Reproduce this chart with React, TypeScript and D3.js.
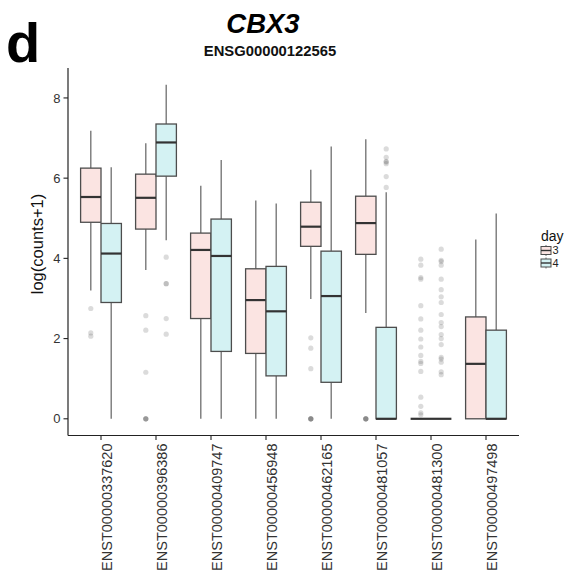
import * as d3 from "d3";

// ---------------------------------------------------------------------------
// Data
// ---------------------------------------------------------------------------

const TRANSCRIPTS = [
  "ENST00000337620",
  "ENST00000396386",
  "ENST00000409747",
  "ENST00000456948",
  "ENST00000462165",
  "ENST00000481057",
  "ENST00000481300",
  "ENST00000497498",
];

const DAYS = ["3", "4"];

// [lower whisker, Q1, median, Q3, upper whisker]
const DAY3_STATS = [
  [3.2, 4.9, 5.53, 6.25, 7.18],
  [3.71, 4.73, 5.51, 6.1, 6.87],
  [0, 2.5, 4.21, 4.63, 5.81],
  [0, 1.63, 2.96, 3.74, 5.44],
  [2.99, 4.3, 4.79, 5.4, 6.21],
  [2.64, 4.1, 4.88, 5.55, 6.97],
  [0, 0, 0, 0, 0],
  [0, 0, 1.37, 2.54, 4.47],
];

const DAY4_STATS = [
  [0, 2.9, 4.12, 4.87, 6.27],
  [4.45, 6.05, 6.89, 7.35, 8.33],
  [0, 1.68, 4.06, 4.98, 6.45],
  [0, 1.07, 2.68, 3.8, 5.37],
  [0, 0.91, 3.06, 4.18, 6.79],
  [0, 0, 0, 2.28, 5.65],
  [0, 0, 0, 0, 0],
  [0, 0, 0, 2.21, 5.12],
];

const DAY3_OUTLIERS = [
  [2.75, 2.14, 2.06],
  [2.57, 2.21, 1.16, 0, 0, 0, 0],
  [],
  [],
  [2.02, 1.76, 1.25, 0, 0, 0, 0, 0],
  [0, 0, 0, 0, 0],
  [3.98, 3.83, 3.52, 3.48, 2.82, 2.49, 2.21, 1.99, 1.79, 1.58, 1.43, 1.38, 1.18, 0.54, 0.31, 0.15, 0.1],
  [],
];

const DAY4_OUTLIERS = [
  [],
  [4.03, 3.37, 3.37, 2.5, 2.11],
  [],
  [],
  [],
  [6.73, 6.52, 6.42, 6.4, 6.36, 6.04, 5.77],
  [4.23, 3.95, 3.92, 3.83, 3.48, 3.22, 3.04, 2.9, 2.6, 2.4, 2.3, 2.1, 2.0, 1.85, 1.53, 1.49, 1.41, 1.17, 1.1],
  [],
];

const Y_TICKS = [0, 2, 4, 6, 8];

// ---------------------------------------------------------------------------
// Style
// ---------------------------------------------------------------------------

const FONT = "'Liberation Sans', Arial, Helvetica, sans-serif";
const FILLS = ["#fbe4e2", "#d4f2f3"];
const BOX_STROKE = "#4d4d4d";
const WHISKER_STROKE = "#6e6e6e";
const MEDIAN_STROKE = "#333333";
const AXIS = "#222222";

const W = 570;
const H = 576;
const PANEL = { left: 68, right: 519, top: 68, bottom: 435.5 };
const BOX_W = 20.4;

export default function App() {
  const x = d3
    .scalePoint<string>()
    .domain(TRANSCRIPTS)
    .range([PANEL.left, PANEL.right])
    .padding(0.6);

  const yMax = d3.max([...DAY3_STATS, ...DAY4_STATS], (s) => s[4]) ?? 8;
  const pad = yMax * 0.05;
  const y = d3
    .scaleLinear()
    .domain([-pad, yMax + pad])
    .range([PANEL.bottom, PANEL.top]);

  const dodge = (dayIdx: number) => (dayIdx === 0 ? -BOX_W / 2 : BOX_W / 2);

  const groups = [
    { stats: DAY3_STATS, outliers: DAY3_OUTLIERS },
    { stats: DAY4_STATS, outliers: DAY4_OUTLIERS },
  ];

  return (
    <div style={{ position: "absolute", left: 0, top: 0 }}>
      <svg width={W} height={H} style={{ display: "block", background: "white" }}>
        {/* panel letter */}
        <text x={6} y={62} fontFamily={FONT} fontWeight={700} fontSize={56} fill="#000">
          d
        </text>

        {/* titles */}
        <text
          x={263}
          y={33}
          textAnchor="middle"
          fontFamily={FONT}
          fontWeight={700}
          fontStyle="italic"
          fontSize={27.5}
          fill="#000"
        >
          CBX3
        </text>
        <text
          x={270}
          y={55.5}
          textAnchor="middle"
          fontFamily={FONT}
          fontWeight={700}
          fontSize={14.8}
          fill="#111"
        >
          ENSG00000122565
        </text>

        {/* boxes */}
        {groups.map((g, di) =>
          TRANSCRIPTS.map((t, i) => {
            const [lo, q1, med, q3, hi] = g.stats[i];
            const cx = (x(t) ?? 0) + dodge(di);
            return (
              <g key={`${di}-${t}`}>
                <line x1={cx} x2={cx} y1={y(q3)} y2={y(hi)} stroke={WHISKER_STROKE} strokeWidth={1.3} />
                <line x1={cx} x2={cx} y1={y(q1)} y2={y(lo)} stroke={WHISKER_STROKE} strokeWidth={1.3} />
                <rect
                  x={cx - BOX_W / 2}
                  y={y(q3)}
                  width={BOX_W}
                  height={Math.max(y(q1) - y(q3), 0)}
                  fill={FILLS[di]}
                  stroke={BOX_STROKE}
                  strokeWidth={1.3}
                />
                <line
                  x1={cx - BOX_W / 2}
                  x2={cx + BOX_W / 2}
                  y1={y(med)}
                  y2={y(med)}
                  stroke={MEDIAN_STROKE}
                  strokeWidth={2.2}
                />
                {g.outliers[i].map((v, k) => (
                  <circle key={k} cx={cx} cy={y(v)} r={2.6} fill="#5a5a5a" fillOpacity={0.22} />
                ))}
              </g>
            );
          }),
        )}

        {/* y axis */}
        <line x1={PANEL.left} x2={PANEL.left} y1={PANEL.top} y2={PANEL.bottom} stroke={AXIS} strokeWidth={1.2} />
        {Y_TICKS.map((v) => (
          <g key={v}>
            <line x1={PANEL.left - 4.5} x2={PANEL.left} y1={y(v)} y2={y(v)} stroke={AXIS} strokeWidth={1.1} />
            <text
              x={PANEL.left - 7.5}
              y={y(v)}
              dy="0.36em"
              textAnchor="end"
              fontFamily={FONT}
              fontSize={13}
              fill="#333"
            >
              {v}
            </text>
          </g>
        ))}
        <text
          transform={`translate(43,244) rotate(-90)`}
          textAnchor="middle"
          fontFamily={FONT}
          fontSize={16.5}
          fill="#111"
        >
          log(counts+1)
        </text>

        {/* x axis */}
        <line x1={PANEL.left} x2={PANEL.right} y1={PANEL.bottom} y2={PANEL.bottom} stroke={AXIS} strokeWidth={1.2} />
        {TRANSCRIPTS.map((t) => {
          const tx = x(t) ?? 0;
          return (
            <g key={t}>
              <line x1={tx} x2={tx} y1={PANEL.bottom} y2={PANEL.bottom + 4.5} stroke={AXIS} strokeWidth={1.1} />
              <text
                transform={`translate(${tx + 5.5},${PANEL.bottom + 8}) rotate(-90)`}
                dy="0.36em"
                textAnchor="end"
                fontFamily={FONT}
                fontSize={14.5}
                fill="#333"
              >
                {t}
              </text>
            </g>
          );
        })}

        {/* legend */}
        <text x={541} y={240.5} fontFamily={FONT} fontSize={14} fill="#111">
          day
        </text>
        {DAYS.map((d, i) => {
          const ky = 250.5 + i * 12.5;
          return (
            <g key={d}>
              <line x1={546} x2={546} y1={ky - 5.5} y2={ky + 5.5} stroke={WHISKER_STROKE} strokeWidth={1} />
              <rect x={541} y={ky - 4} width={10} height={8} fill={FILLS[i]} stroke={BOX_STROKE} strokeWidth={1} />
              <line x1={541} x2={551} y1={ky} y2={ky} stroke={MEDIAN_STROKE} strokeWidth={1.4} />
              <text x={552.5} y={ky} dy="0.35em" fontFamily={FONT} fontSize={11} fill="#222">
                {d}
              </text>
            </g>
          );
        })}
      </svg>
    </div>
  );
}
